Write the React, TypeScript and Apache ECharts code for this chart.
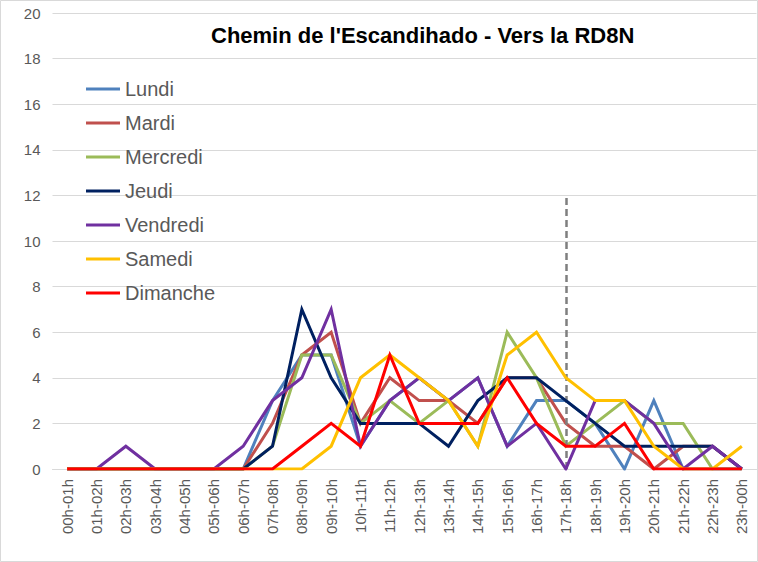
import { useEffect, useRef } from "react";
import * as echarts from "echarts";

const categories = [
  "00h-01h", "01h-02h", "02h-03h", "03h-04h", "04h-05h", "05h-06h",
  "06h-07h", "07h-08h", "08h-09h", "09h-10h", "10h-11h", "11h-12h",
  "12h-13h", "13h-14h", "14h-15h", "15h-16h", "16h-17h", "17h-18h",
  "18h-19h", "19h-20h", "20h-21h", "21h-22h", "22h-23h", "23h-00h",
];

const lundi = [0, 0, 0, 0, 0, 0, 0, 3, 5, 5, 1, 3, 4, 3, 4, 1, 3, 3, 2, 0, 3, 0, 0, 0];
const mardi = [0, 0, 0, 0, 0, 0, 0, 2, 5, 6, 2, 4, 3, 3, 2, 4, 4, 2, 1, 1, 0, 1, 1, 0];
const mercredi = [0, 0, 0, 0, 0, 0, 0, 1, 5, 5, 2, 3, 2, 3, 1, 6, 4, 1, 2, 3, 2, 2, 0, 0];
const jeudi = [0, 0, 0, 0, 0, 0, 0, 1, 7, 4, 2, 2, 2, 1, 3, 4, 4, 3, 2, 1, 1, 1, 1, 0];
const vendredi = [0, 0, 1, 0, 0, 0, 1, 3, 4, 7, 1, 3, 4, 3, 4, 1, 2, 0, 3, 3, 2, 0, 1, 0];
const samedi = [0, 0, 0, 0, 0, 0, 0, 0, 0, 1, 4, 5, 4, 3, 1, 5, 6, 4, 3, 3, 1, 0, 0, 1];
const dimanche = [0, 0, 0, 0, 0, 0, 0, 0, 1, 2, 1, 5, 2, 2, 2, 4, 2, 1, 1, 2, 0, 0, 0, 0];

const seriesNames = ["Lundi", "Mardi", "Mercredi", "Jeudi", "Vendredi", "Samedi", "Dimanche"];
const seriesValues = [lundi, mardi, mercredi, jeudi, vendredi, samedi, dimanche];
const seriesColors = ["#4F81BD", "#C0504D", "#9BBB59", "#002060", "#7030A0", "#FFC000", "#FF0000"];

const markerCategory = "17h-18h";
const markerTop = 12;

const title = "Chemin de l'Escandihado - Vers la RD8N";

export default function App() {
  const ref = useRef<HTMLDivElement>(null);
  useEffect(() => {
    const chart = echarts.init(ref.current!, null, { renderer: "svg" });
    const series: any[] = seriesNames.map((name, i) => ({
      name,
      type: "line",
      data: seriesValues[i],
      symbol: "none",
      showSymbol: false,
      color: seriesColors[i],
      lineStyle: { width: 3, color: seriesColors[i], join: "miter" },
      z: 2 + i,
    }));
    series[6].markLine = {
      silent: true,
      symbol: ["none", "none"],
      label: { show: false },
      lineStyle: { type: [7, 4], color: "#7f7f7f", width: 2.5 },
      data: [[{ coord: [markerCategory, 0] }, { coord: [markerCategory, markerTop] }]],
    };
    chart.setOption({
      animation: false,
      backgroundColor: "#ffffff",
      textStyle: { fontFamily: "Liberation Sans" },
      title: {
        text: title,
        left: 206,
        top: 19,
        textStyle: {
          fontFamily: "Liberation Sans",
          fontWeight: "bold",
          fontSize: 22,
          color: "#000000",
        },
      },
      legend: {
        orient: "vertical",
        left: 86,
        top: 79,
        padding: 0,
        icon: "rect",
        itemWidth: 34,
        itemHeight: 3,
        itemGap: 14,
        data: seriesNames,
        textStyle: { fontSize: 20, lineHeight: 20, color: "#595959", fontFamily: "Liberation Sans" },
      },
      grid: { left: 52.5, right: 1.5, top: 13, bottom: 93, containLabel: false },
      xAxis: {
        type: "category",
        data: categories,
        boundaryGap: true,
        axisLine: { lineStyle: { color: "#d9d9d9", width: 1 } },
        axisTick: { show: false },
        axisLabel: { rotate: 90, fontSize: 15, color: "#595959", margin: 10, interval: 0 },
      },
      yAxis: {
        type: "value",
        min: 0,
        max: 20,
        interval: 2,
        axisLine: { show: false },
        axisTick: { show: false },
        axisLabel: { fontSize: 15, color: "#595959", margin: 12 },
        splitLine: { lineStyle: { color: "#d9d9d9", width: 1 } },
      },
      graphic: [
        {
          type: "rect",
          shape: { x: 0.5, y: 0.5, width: 757, height: 561 },
          style: { fill: "none", stroke: "#d9d9d9", lineWidth: 1 },
          silent: true,
          z: -1,
        },
      ],
      series,
    });
    return () => chart.dispose();
  }, []);
  return (
    <div
      ref={ref}
      style={{ position: "fixed", left: 0, top: 0, width: 758, height: 562, background: "#fff" }}
    />
  );
}
